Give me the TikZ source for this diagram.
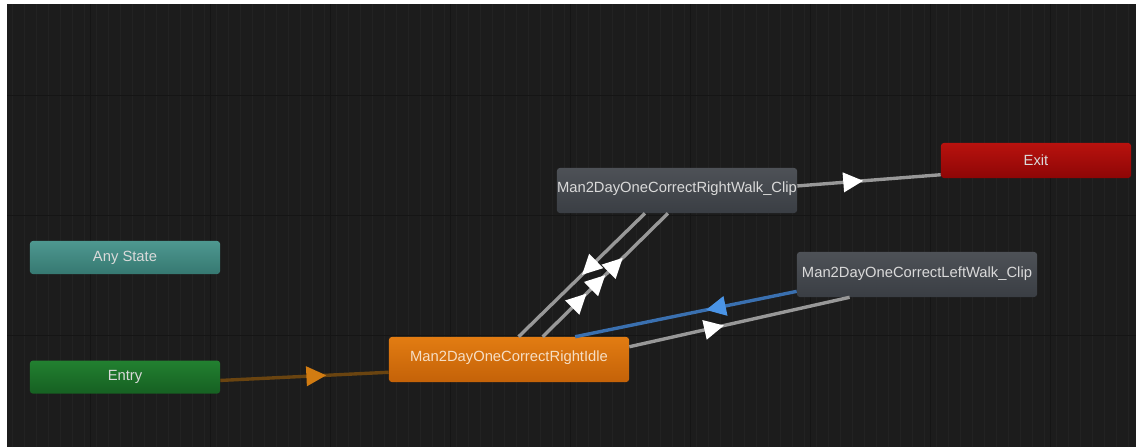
\documentclass[tikz,border=0pt]{standalone}
\usepackage{fontspec}
\setmainfont{Liberation Sans}
\usetikzlibrary{positioning, calc, arrows.meta, decorations.markings}

\definecolor{bggray}{HTML}{1C1C1C}
\definecolor{minorline}{HTML}{222222}
\definecolor{majorline}{HTML}{151515}
\definecolor{txtgray}{HTML}{DADADA}
\definecolor{nodegray}{HTML}{3A3E44}
\definecolor{linegray}{HTML}{989898}
\definecolor{lineblue}{HTML}{3A70B0}
\definecolor{arrowblue}{HTML}{4A94E6}
\definecolor{linebrown}{HTML}{6A4410}
\definecolor{arroworange}{HTML}{D27C12}

\tikzset{
  midarrow/.style 2 args={postaction={decorate, decoration={markings,
      mark=at position #1 with {\arrow{Triangle[length=0.5cm, width=0.48cm, color=#2]}}}}},
}

\begin{document}
\begin{tikzpicture}[x=0.025cm, y=-0.025cm,
    every node/.style={rounded corners=2pt, inner sep=0pt, text=txtgray,
                       font=\fontsize{10.5}{12}\selectfont},
    state/.style={minimum width=6cm, minimum height=1.125cm,
                  top color=nodegray!90!white, bottom color=nodegray},
    special/.style={minimum width=4.75cm, minimum height=0.825cm},
    trans/.style={draw=linegray, line width=2.4pt}]

    % Background and grid
    \useasboundingbox (0,0) rectangle (1136,447);
    \fill[white] (0,0) rectangle (1136,447);
    \fill[bggray] (7,4) rectangle (1136,447);
    \draw[minorline, line width=0.5pt, step=12] (7,4) grid (1136,447);
    \foreach \x in {90,210,...,1050}
        \draw[majorline, line width=0.7pt] (\x,4) -- (\x,447);
    \foreach \y in {95,215,335}
        \draw[majorline, line width=0.7pt] (7,\y) -- (1136,\y);

    % States
    \node (anystate) [special,
                      top color={rgb,255:red,78;green,152;blue,144},
                      bottom color={rgb,255:red,54;green,120;blue,113}] at (125,257.5) {Any State};
    \node (entry) [special, below=2.15cm of anystate,
                   top color={rgb,255:red,34;green,128;blue,48},
                   bottom color={rgb,255:red,22;green,96;blue,34}] {Entry};
    \node (idle) [state, top color={rgb,255:red,226;green,124;blue,18},
                  bottom color={rgb,255:red,196;green,98;blue,8},
                  text={rgb,255:red,246;green,222;blue,196}] at (509,359.5)
                  {\raisebox{5pt}{Man2DayOneCorrectRightIdle}};
    \node (rightwalk) [state] at (677,190.5)
                  {\raisebox{5pt}{Man2DayOneCorrectRightWalk\_Clip}};
    \node (leftwalk) [state] at (917,274.5)
                  {\raisebox{4pt}{Man2DayOneCorrectLeftWalk\_Clip}};
    \node (exit) [special, minimum height=0.875cm,
                  top color={rgb,255:red,184;green,18;blue,14},
                  bottom color={rgb,255:red,142;green,6;blue,6}] at (1036,160.5) {Exit};

    % Transitions
    \draw[trans, draw=linebrown, midarrow={0.63}{arroworange}]
        ($(entry.north east)!0.6!(entry.south east)$) -- ($(idle.north west)!0.78!(idle.south west)$);

    \draw[trans, midarrow={0.5}{white}]
        ($(rightwalk.south west)!0.367!(rightwalk.south east)$) -- ($(idle.north west)!0.54!(idle.north east)$);
    \draw[trans, midarrow={0.35}{white}, midarrow={0.5}{white}, midarrow={0.64}{white}]
        ($(idle.north west)!0.64!(idle.north east)$) -- ($(rightwalk.south west)!0.4625!(rightwalk.south east)$);

    \draw[trans, draw=lineblue, midarrow={0.41}{arrowblue}]
        ($(leftwalk.north west)!0.87!(leftwalk.south west)$) -- ($(idle.north west)!0.775!(idle.north east)$);
    \draw[trans, midarrow={0.43}{white}]
        ($(idle.north east)!0.22!(idle.south east)$) -- ($(leftwalk.south west)!0.22!(leftwalk.south east)$);

    \draw[trans, midarrow={0.46}{white}]
        ($(rightwalk.north east)!0.4!(rightwalk.south east)$) -- ($(exit.north west)!0.9!(exit.south west)$);

\end{tikzpicture}
\end{document}
